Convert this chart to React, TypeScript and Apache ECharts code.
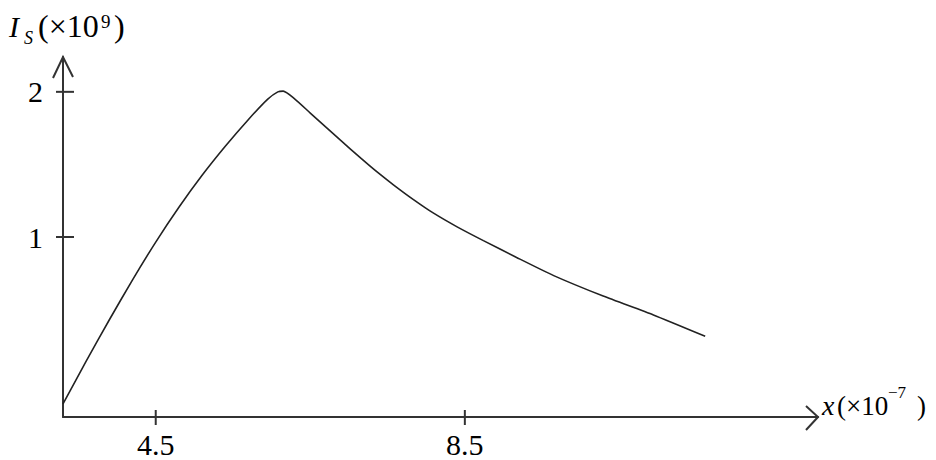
import React, { useEffect, useRef } from "react";
import * as echarts from "echarts";

// axis ranges and tick labels
const xRange = [3.3, 13.07];
const yRange = [-0.24, 2.24];
const xTicks = [4.5, 8.5];
const yTicks = [1, 2];

// curve I_S (×10^9) against x (×10^-7)
const xValues = [3.3, 3.6, 3.9, 4.2, 4.5, 4.8, 5.1, 5.4, 5.7, 5.95, 6.08, 6.15, 6.29, 6.5, 6.89, 7.15, 7.36, 7.58, 7.84, 8.09, 8.4, 8.74, 9.17, 9.65, 10.29, 10.94, 11.61];
const isValues = [-0.15, 0.145, 0.43, 0.705, 0.965, 1.205, 1.425, 1.625, 1.81, 1.95, 2.0, 2.005, 1.955, 1.854, 1.667, 1.545, 1.45, 1.358, 1.256, 1.166, 1.07, 0.975, 0.859, 0.734, 0.593, 0.463, 0.316];

const FONT = "Liberation Serif";
const AXIS_COLOR = "#333";

function txt(text: string, x: number, baseline: number, size: number, italic = false) {
  return {
    type: "text",
    x,
    y: baseline - 0.34 * size,
    silent: true,
    style: {
      text,
      fontFamily: FONT,
      fontSize: size,
      fontStyle: italic ? "italic" : "normal",
      fill: "#000",
      align: "left",
      verticalAlign: "middle",
    },
  };
}

export default function App() {
  const ref = useRef<HTMLDivElement>(null);
  useEffect(() => {
    if (!ref.current) return;
    const chart = echarts.init(ref.current, null, { renderer: "svg" });
    const data = xValues.map((x, i) => [x, isValues[i]]);
    chart.setOption({
      animation: false,
      backgroundColor: "#fff",
      textStyle: { fontFamily: FONT },
      grid: { left: 63, right: 118, top: 57, bottom: 43, containLabel: false },
      xAxis: {
        type: "value",
        min: xRange[0],
        max: xRange[1],
        splitLine: { show: false },
        axisLine: { show: true, onZero: false, lineStyle: { color: AXIS_COLOR, width: 2 } },
        axisTick: { show: false },
        axisLabel: {
          show: true,
          customValues: xTicks,
          formatter: (v: number) => String(v),
          color: "#000",
          fontFamily: FONT,
          fontSize: 30,
          margin: 12,
        },
      },
      yAxis: {
        type: "value",
        min: yRange[0],
        max: yRange[1],
        splitLine: { show: false },
        axisLine: { show: true, onZero: false, lineStyle: { color: AXIS_COLOR, width: 2 } },
        axisTick: { show: false },
        axisLabel: {
          show: true,
          customValues: yTicks,
          formatter: (v: number) => String(v),
          color: "#000",
          fontFamily: FONT,
          fontSize: 30,
          margin: 20,
          verticalAlign: "middle",
          padding: [8, 0, 0, 0],
        },
      },
      series: [
        {
          type: "line",
          data,
          symbol: "none",
          smooth: 0.2,
          lineStyle: { color: "#222", width: 1.6 },
        },
      ],
    });

    const xe = chart.convertToPixel({ gridIndex: 0 }, [xRange[1], yRange[0]]) as number[];
    const ye = chart.convertToPixel({ gridIndex: 0 }, [xRange[0], yRange[1]]) as number[];
    const stroke = { stroke: AXIS_COLOR, lineWidth: 2, fill: "none" };
    const graphics: any[] = [];
    // arrowheads
    graphics.push({
      type: "polyline",
      silent: true,
      shape: { points: [[xe[0] - 12, xe[1] - 11], [xe[0], xe[1]], [xe[0] - 12, xe[1] + 13]] },
      style: stroke,
    });
    graphics.push({
      type: "polyline",
      silent: true,
      shape: { points: [[ye[0] - 10, ye[1] + 21], [ye[0], ye[1]], [ye[0] + 10, ye[1] + 20]] },
      style: stroke,
    });
    // crossing ticks
    xTicks.forEach((v) => {
      const p = chart.convertToPixel({ gridIndex: 0 }, [v, yRange[0]]) as number[];
      graphics.push({ type: "line", silent: true, shape: { x1: p[0], y1: p[1] - 7, x2: p[0], y2: p[1] + 8 }, style: stroke });
    });
    yTicks.forEach((v) => {
      const q = chart.convertToPixel({ gridIndex: 0 }, [xRange[0], v]) as number[];
      graphics.push({ type: "line", silent: true, shape: { x1: q[0] - 7, y1: q[1], x2: q[0] + 11, y2: q[1] }, style: stroke });
    });
    // y-axis name: I_S (×10^9)
    graphics.push(txt("I", 9, 37, 30, true));
    graphics.push(txt("S", 24, 44, 18, true));
    graphics.push(txt("(×10", 38, 37, 32));
    graphics.push(txt("9", 101, 28, 19));
    graphics.push(txt(")", 114, 37, 32));
    // x-axis name: x(×10^-7)
    graphics.push(txt("x", 822, 415, 28, true));
    graphics.push(txt("(×10", 837, 415, 27));
    graphics.push(txt("−7", 888, 398, 17));
    graphics.push(txt(")", 917, 415, 27));

    chart.setOption({ graphic: graphics });
    return () => chart.dispose();
  }, []);
  return (
    <div
      ref={ref}
      style={{ position: "absolute", left: 0, top: 0, width: 936, height: 460 }}
    />
  );
}
